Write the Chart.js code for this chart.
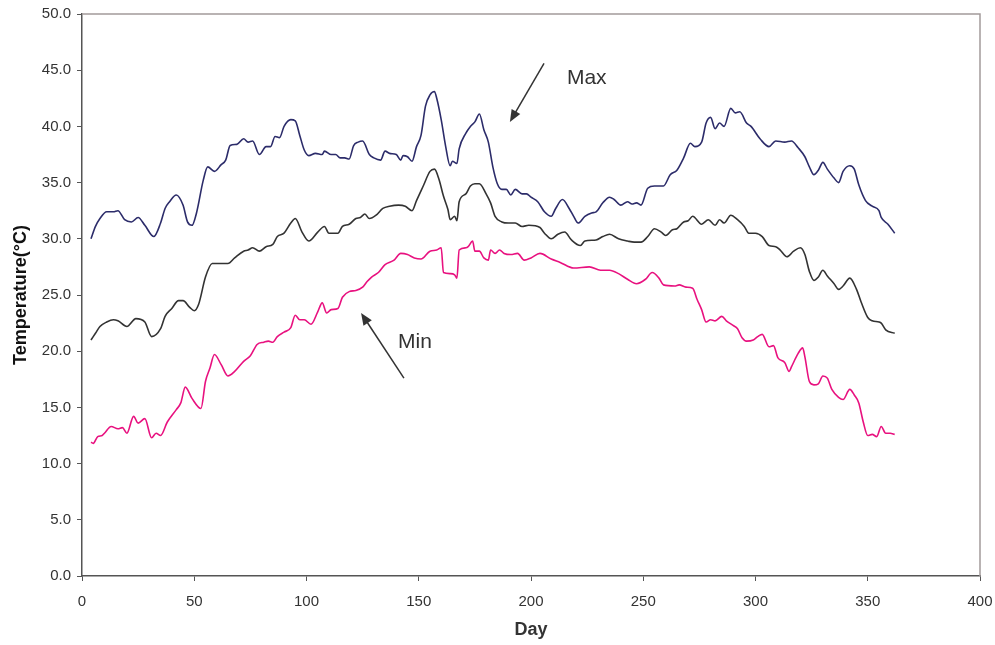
<!DOCTYPE html>
<html>
<head>
<meta charset="utf-8">
<script src="https://cdn.jsdelivr.net/npm/chart.js@4/dist/chart.umd.min.js"></script>
<style>
  html, body { margin: 0; padding: 0; background: #fff; }
  #wrap { width: 995px; height: 645px; }
</style>
</head>
<body>
<div id="wrap"><canvas id="chart-temp"></canvas></div>
<script>
// daily maximum temperature
const maxDays = [4, 6, 8, 11, 14, 16, 19, 22, 25, 28, 32, 35, 37, 39, 42, 45, 47, 49, 51, 54, 56, 59, 62, 64, 66, 69, 72, 74, 76, 79, 82, 84, 86, 88, 90, 93, 95, 97, 99, 101, 104, 107, 108, 111, 113, 115, 117, 119, 121, 123, 125, 128, 130, 133, 135, 137, 140, 142, 143, 145, 147, 149, 151, 153, 155, 157, 158, 160, 162, 164, 165, 167, 168, 171, 173, 175, 177, 179, 181, 183, 185, 187, 189, 191, 193, 196, 198, 200, 203, 206, 209, 211, 214, 217, 219, 221, 224, 227, 229, 232, 235, 237, 240, 243, 245, 247, 249, 252, 255, 259, 262, 265, 268, 271, 273, 276, 278, 280, 282, 284, 286, 289, 291, 293, 296, 298, 302, 306, 309, 313, 316, 319, 322, 324, 326, 328, 330, 332, 335, 337, 339, 342, 344, 346, 349, 352, 355, 356, 359, 362];
const maxVals = [30.0, 31.1, 31.8, 32.4, 32.4, 32.5, 31.7, 31.5, 31.9, 31.2, 30.2, 31.4, 32.7, 33.3, 33.9, 33.0, 31.5, 31.2, 32.3, 35.2, 36.4, 36.0, 36.6, 37.0, 38.3, 38.4, 38.9, 38.6, 38.7, 37.5, 38.2, 38.2, 39.1, 39.0, 40.0, 40.6, 40.5, 39.2, 37.9, 37.4, 37.6, 37.5, 37.8, 37.5, 37.5, 37.2, 37.2, 37.1, 38.3, 38.6, 38.7, 37.5, 37.2, 37.0, 37.8, 37.6, 37.5, 37.0, 37.4, 37.3, 36.9, 38.2, 39.2, 41.8, 42.8, 43.1, 42.5, 40.6, 38.2, 36.5, 36.9, 36.7, 38.0, 39.4, 40.0, 40.4, 41.1, 39.7, 38.6, 36.4, 34.9, 34.4, 34.4, 33.9, 34.4, 34.0, 34.0, 33.7, 33.3, 32.4, 32.0, 32.7, 33.5, 32.7, 32.0, 31.4, 32.0, 32.3, 32.4, 33.2, 33.7, 33.5, 33.0, 33.3, 33.1, 33.2, 33.0, 34.5, 34.7, 34.7, 35.7, 36.1, 37.2, 38.5, 38.2, 38.6, 40.3, 40.8, 39.8, 40.3, 40.0, 41.6, 41.2, 41.3, 40.3, 40.0, 38.9, 38.2, 38.7, 38.6, 38.7, 38.1, 37.3, 36.4, 35.7, 36.1, 36.8, 36.2, 35.4, 35.0, 36.0, 36.5, 36.2, 34.8, 33.4, 32.9, 32.5, 31.9, 31.3, 30.5];

// daily mean temperature
const meanDays = [4, 6, 8, 11, 14, 16, 20, 24, 28, 31, 35, 37, 40, 43, 45, 48, 50, 52, 55, 58, 62, 65, 68, 72, 74, 76, 79, 82, 85, 87, 90, 93, 95, 98, 101, 105, 108, 110, 114, 116, 119, 122, 124, 126, 128, 131, 134, 137, 141, 144, 147, 149, 152, 155, 157, 159, 161, 163, 164, 166, 167, 168, 171, 173, 175, 177, 180, 182, 184, 187, 190, 193, 196, 199, 204, 206, 209, 212, 215, 218, 222, 224, 229, 232, 235, 239, 243, 246, 249, 252, 255, 258, 260, 263, 265, 268, 270, 272, 276, 279, 282, 284, 286, 289, 292, 295, 297, 300, 303, 306, 309, 311, 314, 317, 320, 322, 324, 326, 328, 330, 332, 335, 337, 339, 342, 345, 347, 350, 352, 355, 356, 358, 362];
const meanVals = [21.0, 21.6, 22.2, 22.6, 22.8, 22.7, 22.2, 22.9, 22.6, 21.3, 22.0, 23.1, 23.8, 24.5, 24.5, 23.9, 23.6, 24.2, 26.6, 27.8, 27.8, 27.8, 28.3, 28.9, 29.0, 29.2, 28.9, 29.3, 29.5, 30.2, 30.5, 31.4, 31.8, 30.6, 29.8, 30.6, 31.1, 30.5, 30.5, 31.1, 31.3, 31.8, 31.9, 32.2, 31.8, 32.1, 32.7, 32.9, 33.0, 32.9, 32.5, 33.4, 34.7, 36.0, 36.2, 35.3, 33.8, 32.6, 31.7, 32.0, 31.6, 33.3, 34.0, 34.7, 34.9, 34.9, 34.0, 33.2, 32.0, 31.5, 31.4, 31.4, 31.1, 31.2, 31.0, 30.5, 30.0, 30.4, 30.6, 29.9, 29.4, 29.8, 29.9, 30.2, 30.4, 30.0, 29.8, 29.7, 29.7, 30.2, 30.9, 30.6, 30.3, 30.8, 30.9, 31.5, 31.6, 32.0, 31.3, 31.7, 31.2, 31.7, 31.4, 32.1, 31.7, 31.1, 30.5, 30.5, 30.2, 29.4, 29.3, 29.0, 28.4, 28.9, 29.2, 28.6, 27.1, 26.3, 26.6, 27.2, 26.7, 26.0, 25.5, 25.8, 26.5, 25.5, 24.4, 23.0, 22.7, 22.6, 22.5, 21.9, 21.6];

// daily minimum temperature
const minDays = [4, 5, 7, 9, 10, 13, 16, 18, 20, 23, 25, 28, 31, 33, 35, 38, 42, 44, 46, 49, 53, 55, 57, 59, 62, 65, 68, 72, 75, 78, 81, 83, 85, 87, 90, 93, 95, 97, 99, 102, 105, 107, 109, 111, 114, 116, 119, 122, 125, 127, 129, 132, 135, 139, 142, 145, 148, 151, 155, 158, 160, 161, 164, 166, 167, 168, 171, 172, 174, 175, 177, 179, 181, 182, 184, 186, 188, 191, 194, 197, 200, 204, 209, 213, 219, 226, 231, 235, 239, 243, 247, 251, 254, 257, 259, 264, 266, 269, 272, 274, 276, 278, 280, 282, 285, 287, 290, 292, 294, 296, 299, 301, 303, 306, 308, 310, 313, 315, 316, 319, 321, 322, 324, 326, 328, 330, 332, 334, 337, 339, 342, 344, 346, 348, 350, 352, 354, 356, 358, 360, 362];
const minVals = [11.9, 11.8, 12.4, 12.5, 12.7, 13.3, 13.1, 13.2, 12.7, 14.2, 13.6, 14.0, 12.3, 12.7, 12.5, 13.7, 14.8, 15.4, 16.8, 15.8, 14.9, 17.3, 18.5, 19.7, 18.8, 17.8, 18.2, 19.1, 19.6, 20.6, 20.8, 20.9, 20.8, 21.3, 21.7, 22.1, 23.2, 22.8, 22.8, 22.4, 23.5, 24.3, 23.4, 23.7, 23.8, 24.8, 25.3, 25.4, 25.7, 26.2, 26.6, 27.0, 27.7, 28.1, 28.7, 28.6, 28.3, 28.2, 28.9, 29.0, 29.2, 27.0, 26.9, 26.8, 26.5, 29.0, 29.2, 29.3, 29.8, 28.9, 28.9, 28.3, 28.1, 29.0, 28.7, 29.0, 28.7, 28.6, 28.7, 28.1, 28.3, 28.7, 28.2, 27.9, 27.4, 27.5, 27.2, 27.2, 26.9, 26.4, 26.0, 26.4, 27.0, 26.5, 25.9, 25.8, 25.9, 25.7, 25.6, 24.6, 23.7, 22.6, 22.8, 22.7, 23.1, 22.7, 22.3, 22.0, 21.2, 20.9, 21.0, 21.3, 21.5, 20.4, 20.5, 19.4, 19.0, 18.2, 18.6, 19.8, 20.3, 19.5, 17.3, 17.0, 17.1, 17.8, 17.6, 16.6, 15.9, 15.7, 16.6, 16.1, 15.4, 13.7, 12.5, 12.6, 12.4, 13.3, 12.7, 12.7, 12.6];

const xTicks = [0, 50, 100, 150, 200, 250, 300, 350, 400];
const yTicks = [0, 5, 10, 15, 20, 25, 30, 35, 40, 45, 50];

// text labels with arrows, in data units: [text, textDay, textTemp, fromDay, fromTemp, toDay, toTemp]
const notes = [
    ['Max', 216, 44.3, 205.8, 45.6, 190.6, 40.4],
    ['Min', 140.8, 20.8, 143.4, 17.6, 124.3, 23.4],
];

const toPoints = (days, vals) => days.map((d, i) => ({ x: d, y: vals[i] }));

const frame = {
    id: 'frame',
    afterDraw(chart) {
        const { ctx, chartArea: a } = chart;
        ctx.save();
        ctx.strokeStyle = '#a39a9a';
        ctx.lineWidth = 1.5;
        ctx.beginPath();
        ctx.moveTo(a.left, a.top);
        ctx.lineTo(a.right, a.top);
        ctx.lineTo(a.right, a.bottom);
        ctx.stroke();
        ctx.restore();
    },
};

const arrows = {
    id: 'arrows',
    afterDatasetsDraw(chart) {
        const { ctx, scales } = chart;
        const sx = scales.x, sy = scales.y;
        ctx.save();
        notes.forEach(([label, tx, ty, fx, fy, ex, ey]) => {
            const x0 = sx.getPixelForValue(fx), y0 = sy.getPixelForValue(fy);
            const x1 = sx.getPixelForValue(ex), y1 = sy.getPixelForValue(ey);
            const ang = Math.atan2(y1 - y0, x1 - x0);
            const hl = 12, hw = 5;
            ctx.strokeStyle = '#333';
            ctx.fillStyle = '#333';
            ctx.lineWidth = 1.5;
            ctx.beginPath();
            ctx.moveTo(x0, y0);
            ctx.lineTo(x1 - Math.cos(ang) * hl * 0.8, y1 - Math.sin(ang) * hl * 0.8);
            ctx.stroke();
            ctx.beginPath();
            ctx.moveTo(x1, y1);
            ctx.lineTo(x1 - Math.cos(ang) * hl - Math.sin(ang) * hw, y1 - Math.sin(ang) * hl + Math.cos(ang) * hw);
            ctx.lineTo(x1 - Math.cos(ang) * hl + Math.sin(ang) * hw, y1 - Math.sin(ang) * hl - Math.cos(ang) * hw);
            ctx.closePath();
            ctx.fill();
            ctx.font = '21px "Liberation Sans", Arial, sans-serif';
            ctx.textAlign = 'left';
            ctx.textBaseline = 'middle';
            ctx.fillText(label, sx.getPixelForValue(tx), sy.getPixelForValue(ty));
        });
        ctx.restore();
    },
};

const lineDs = (label, days, vals, color) => ({
    label,
    data: toPoints(days, vals),
    borderColor: color,
    backgroundColor: color,
    borderWidth: 1.6,
    pointRadius: 0,
    cubicInterpolationMode: 'monotone',
    fill: false,
});

const tickFont = { family: '"Liberation Sans", Arial, sans-serif', size: 15 };
const titleFont = { family: '"Liberation Sans", Arial, sans-serif', size: 18, weight: 'bold' };

new Chart(document.getElementById('chart-temp'), {
    type: 'line',
    data: {
        datasets: [
            lineDs('Max', maxDays, maxVals, '#2c2c6a'),
            lineDs('Mean', meanDays, meanVals, '#333333'),
            lineDs('Min', minDays, minVals, '#e8117f'),
        ],
    },
    plugins: [frame, arrows],
    options: {
        responsive: true,
        maintainAspectRatio: false,
        animation: false,
        layout: { padding: { top: 14, right: 15, bottom: 0, left: 0 } },
        plugins: { legend: { display: false }, tooltip: { enabled: false } },
        scales: {
            x: {
                type: 'linear',
                min: 0,
                max: 400,
                afterBuildTicks: s => { s.ticks = xTicks.map(v => ({ value: v })); },
                afterFit: s => { s.height = 69; s.paddingLeft = 0; s.paddingRight = 0; },
                ticks: { color: '#333', font: tickFont, padding: 12, maxRotation: 0 },
                grid: { drawOnChartArea: false, drawTicks: true, tickLength: 5, color: '#555' },
                border: { display: true, color: '#555', width: 1.5 },
                title: { display: true, text: 'Day', color: '#333', font: titleFont, padding: { top: 4 } },
            },
            y: {
                min: 0,
                max: 50,
                afterBuildTicks: s => { s.ticks = yTicks.map(v => ({ value: v })); },
                afterFit: s => { s.width = 82; s.paddingTop = 0; s.paddingBottom = 0; },
                ticks: { color: '#333', font: tickFont, padding: 6, callback: v => v.toFixed(1) },
                grid: { drawOnChartArea: false, drawTicks: true, tickLength: 5, color: '#555' },
                border: { display: true, color: '#555', width: 1.5 },
                title: { display: true, text: 'Temperature(°C)', color: '#111', font: titleFont, padding: { top: 10, bottom: 2 } },
            },
        },
    },
});
</script>
</body>
</html>
